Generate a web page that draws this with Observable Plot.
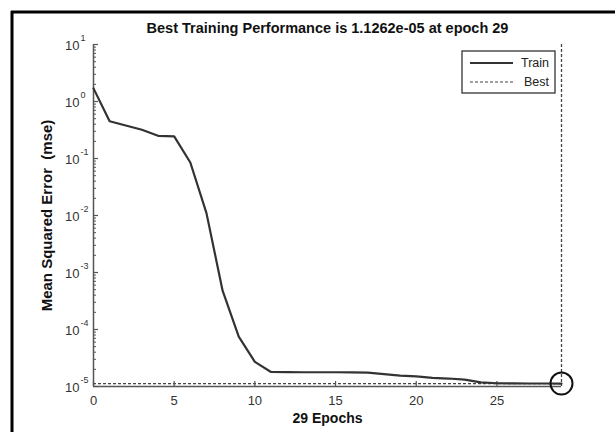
<!DOCTYPE html>
<html>
<head>
<meta charset="utf-8">
<script src="https://cdn.jsdelivr.net/npm/d3@7"></script>
<script src="https://cdn.jsdelivr.net/npm/@observablehq/plot@0.6"></script>
<style>
  html, body { margin: 0; padding: 0; background: #fff; }
</style>
</head>
<body>
<div id="chart"></div>
<script>
// Training record: mean squared error per epoch
const epochs = [0, 1, 2, 3, 4, 5, 6, 7, 8, 9, 10, 11, 12, 13, 14, 15, 16, 17, 18, 19, 20, 21, 22, 23, 24, 25, 26, 27, 28, 29];
const trainMse = [1.7, 0.45, 0.38, 0.32, 0.25, 0.245, 0.085, 0.011, 4.8e-4, 7.5e-5, 2.7e-5, 1.8e-5,
  1.79e-5, 1.78e-5, 1.78e-5, 1.78e-5, 1.77e-5, 1.75e-5, 1.65e-5, 1.55e-5, 1.5e-5, 1.42e-5,
  1.38e-5, 1.32e-5, 1.18e-5, 1.14e-5, 1.135e-5, 1.13e-5, 1.128e-5, 1.1262e-5];
const bestEpoch = 29;
const bestMse = 1.1262e-5;

// Axis ticks and text
const xTicks = [0, 5, 10, 15, 20, 25];
const yDecades = [-5, -4, -3, -2, -1, 0, 1];
const seriesNames = ["Train", "Best"];
const titleText = "Best Training Performance is 1.1262e-05 at epoch 29";
const xLabel = "29 Epochs";
const yLabel = "Mean Squared Error\u00a0 (mse)";

const W = 615, H = 432;
const mL = 93, mR = 54, mT = 44, mB = 46;
const plotW = W - mL - mR, plotH = H - mT - mB;
const font = "'Liberation Sans', Arial, Helvetica, sans-serif";
const axisColor = "#555";
const lineColor = "#333";

const train = epochs.map((e, i) => ({epoch: e, mse: trainMse[i]}));
const decadeVals = yDecades.map(k => 10 ** k);
const minorVals = yDecades.slice(0, -1).flatMap(k => d3.range(2, 10).map(m => m * 10 ** k));

const chart = Plot.plot({
  width: W, height: H,
  marginLeft: mL, marginRight: mR, marginTop: mT, marginBottom: mB,
  style: {fontFamily: font, background: "#fff", overflow: "visible"},
  x: {domain: [0, 29], axis: null},
  y: {type: "log", domain: [1e-5, 10], axis: null},
  marks: [
    // best performance guides
    Plot.ruleY([bestMse], {stroke: "#444", strokeWidth: 1.3, strokeDasharray: "3,2"}),
    Plot.ruleX([bestEpoch], {stroke: "#444", strokeWidth: 1.3, strokeDasharray: "3,2"}),
    // axis lines
    Plot.ruleX([0], {stroke: axisColor, strokeWidth: 1.5}),
    Plot.ruleY([1e-5], {stroke: axisColor, strokeWidth: 1.5}),
    // inward ticks
    Plot.ruleY(decadeVals, {insetRight: plotW - 5, stroke: axisColor, strokeWidth: 1.2}),
    Plot.ruleY(minorVals, {insetRight: plotW - 3, stroke: axisColor, strokeWidth: 1}),
    Plot.ruleX(xTicks, {insetTop: plotH - 5, stroke: axisColor, strokeWidth: 1.2}),
    // training curve
    Plot.line(train, {x: "epoch", y: "mse", stroke: lineColor, strokeWidth: 2.2}),
    // best point marker
    Plot.dot([{epoch: bestEpoch, mse: bestMse}], {x: "epoch", y: "mse", r: 11, stroke: "#111", strokeWidth: 2, fill: "none"}),
    // y tick labels: 10 with raised exponent
    Plot.text(decadeVals, {y: d => d, text: () => "10", frameAnchor: "left", textAnchor: "end", dx: -14, dy: 1, fontSize: 13, fill: "#333"}),
    Plot.text(decadeVals, {y: d => d, text: d => String(Math.round(Math.log10(d))), frameAnchor: "left", textAnchor: "start", dx: -13, dy: -6, fontSize: 9, fill: "#333"}),
    // x tick labels
    Plot.text(xTicks, {x: d => d, text: d => String(d), frameAnchor: "bottom", lineAnchor: "middle", dy: 14, fontSize: 13, fill: "#333"}),
    // titles
    Plot.text([titleText], {frameAnchor: "top", textAnchor: "middle", lineAnchor: "middle", dy: -16, fontSize: 14.5, fontWeight: "bold", fill: "#111"}),
    Plot.text([xLabel], {frameAnchor: "bottom", textAnchor: "middle", lineAnchor: "middle", dy: 32, fontSize: 14, fontWeight: "bold", fill: "#111"}),
    Plot.text([yLabel], {frameAnchor: "left", textAnchor: "middle", lineAnchor: "middle", dx: -46, rotate: -90, fontSize: 15, fontWeight: "bold", fill: "#111"})
  ]
});

document.getElementById("chart").appendChild(chart);

// Legend box and figure border
const svg = d3.select(chart);
const lg = svg.append("g").attr("font-family", font).attr("font-size", 12.5);
lg.append("rect").attr("x", 462).attr("y", 51).attr("width", 93).attr("height", 42)
  .attr("fill", "#fff").attr("stroke", "#333").attr("stroke-width", 1.3);
const rowsY = [63, 82];
seriesNames.forEach((name, i) => {
  lg.append("line").attr("x1", 470).attr("x2", 513).attr("y1", rowsY[i]).attr("y2", rowsY[i])
    .attr("stroke", i === 0 ? lineColor : "#444")
    .attr("stroke-width", i === 0 ? 2 : 1.2)
    .attr("stroke-dasharray", i === 0 ? null : "3,2");
  lg.append("text").attr("x", 549).attr("y", rowsY[i]).attr("dy", "0.35em")
    .attr("text-anchor", "end").attr("fill", "#222").text(name);
});
const border = svg.append("g").attr("stroke", "#000").attr("stroke-width", 3);
border.append("line").attr("x1", 12).attr("x2", 12).attr("y1", 11).attr("y2", H);
border.append("line").attr("x1", 11).attr("x2", W).attr("y1", 12).attr("y2", 12);
</script>
</body>
</html>
